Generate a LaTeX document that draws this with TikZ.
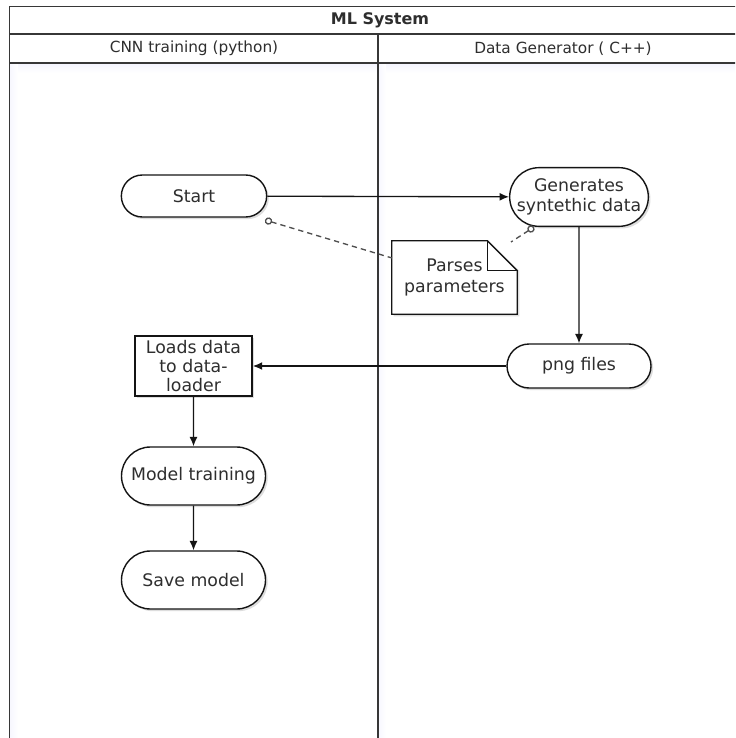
\documentclass[tikz,border=0pt]{standalone}
\usepackage{fontspec}
\setmainfont{DejaVu Sans}
\usetikzlibrary{arrows.meta,shadows,calc,shapes.misc}
\definecolor{txt}{HTML}{2E2E2E}
\definecolor{ln}{HTML}{141414}
\begin{document}
\begin{tikzpicture}[x=0.75pt,y=-0.75pt,
  every node/.style={text=txt},
  sh/.style={drop shadow={shadow xshift=1.6pt,shadow yshift=-1.6pt,opacity=0.22,fill=black!60}},
  pill/.style={rounded rectangle,draw=ln,line width=1.05pt,fill=white,sh,
    font=\fontsize{13}{14.5}\selectfont,align=center,inner sep=1pt},
  boxnode/.style={rectangle,draw=ln,line width=1.05pt,fill=white,sh,
    font=\fontsize{13}{14.5}\selectfont,align=center,inner sep=0pt},
  arr/.style={draw=ln,line width=1pt,-{Latex[length=7pt,width=6pt]}},
  dline/.style={draw=ln!75,line width=1pt,dash pattern=on 4pt off 3pt,{Circle[open,length=5.5pt,width=5.5pt]}-},
  hdr/.style={font=\fontsize{11.5}{13}\selectfont},
  pool/.style={draw=ln!85,line width=1.3pt}
]
\useasboundingbox (0,0) rectangle (735,738);
\clip (0,0) rectangle (735,738);
\fill[white] (0,0) rectangle (735,738);

% soft shadows under header and beside lane lines
\shade[top color=black!12!blue!4,bottom color=white] (10,63.5) rectangle (760,73);
\shade[left color=black!8!blue!3,right color=white] (10,63.5) rectangle (18,760);
\shade[left color=black!8!blue!3,right color=white] (378.5,63.5) rectangle (386,760);

% pool frame
\draw[pool] (9.5,6.5) rectangle (750,770);
\draw[pool] (9.5,34) -- (750,34);
\draw[pool] (9.5,63) -- (750,63);
\draw[pool] (378,34) -- (378,770);

\node[font=\bfseries\fontsize{12}{14}\selectfont] (title) at (380,20) {ML System};
\node[hdr] (lane1) at (194,48.5) {CNN training (python)};
\node[hdr] (lane2) at (563,48.5) {Data Generator ( C++)};

% nodes
\node[pill,minimum width=111pt,minimum height=31.5pt] (start) at (194,196) {Start};
\node[pill,minimum width=106pt,minimum height=44pt] (gen) at (579,197) {Generates\\syntethic data};
\node[pill,minimum width=110pt,minimum height=33pt] (png) at (579,366) {png files};
\node[boxnode,minimum width=88pt,minimum height=45pt] (load) at (193.5,366) {Loads data\\to data-\\loader};
\node[pill,minimum width=110pt,minimum height=43.5pt] (train) at (193.5,476) {Model training};
\node[pill,minimum width=110pt,minimum height=43.5pt] (save) at (193.5,580) {Save model};

% note with folded corner
\node[minimum width=93.75pt,minimum height=54.75pt,inner sep=0pt] (note) at (454.5,277.5) {};
\fill[black!60,opacity=0.22] ([shift={(2,2)}]note.north west) -- ([shift={(-28,2)}]note.north east)
  -- ([shift={(2,30)}]note.north east) -- ([shift={(2,2)}]note.south east) -- ([shift={(2,2)}]note.south west) -- cycle;
\draw[ln,line width=1.05pt,fill=white] (note.north west) -- ([xshift=-22.5pt]note.north east)
  -- ([yshift=-22.5pt]note.north east) -- (note.south east) -- (note.south west) -- cycle;
\draw[ln,line width=1.05pt] ([xshift=-22.5pt]note.north east) -- ([xshift=-22.5pt,yshift=-22.5pt]note.north east)
  -- ([yshift=-22.5pt]note.north east);
\node[inner sep=0pt,font=\fontsize{13}{16}\selectfont,align=center] (notetext) at (note) {Parses\\parameters};

% connectors
\draw[arr] (start) -- (gen);
\draw[arr] (gen) -- (png);
\draw[arr] (png) -- (load);
\draw[arr] (load) -- (train);
\draw[arr] (train) -- (save);

\coordinate (c1) at (265,220);
\coordinate (n1) at (392,258);
\coordinate (c2) at (534,227);
\coordinate (n2) at (511,242);
\draw[dline] (c1) -- (n1);
\draw[dline] (c2) -- (n2);
\end{tikzpicture}
\end{document}
